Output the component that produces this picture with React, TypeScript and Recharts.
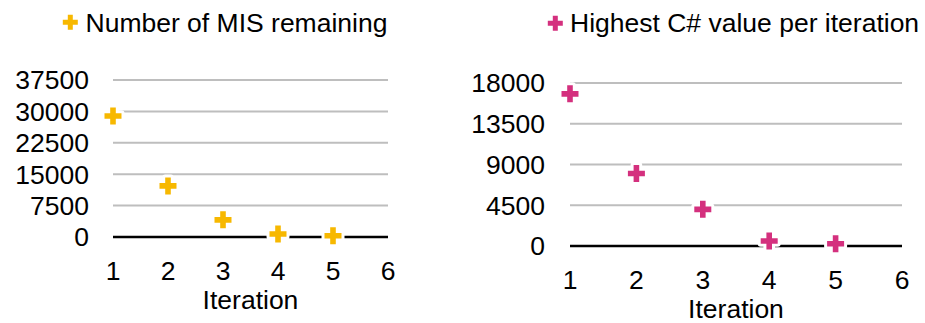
import React from "react";
import {
  ScatterChart,
  Scatter,
  XAxis,
  YAxis,
  CartesianGrid,
  Label,
} from "recharts";

const ITERATIONS = [1, 2, 3, 4, 5];
const MIS_REMAINING = [28900, 12200, 4100, 700, 300];
const HIGHEST_C_SHARP = [16800, 8000, 4050, 550, 250];
const X_TICKS = [1, 2, 3, 4, 5, 6];
const MIS_TICKS = [0, 7500, 15000, 22500, 30000, 37500];
const C_SHARP_TICKS = [0, 4500, 9000, 13500, 18000];
const MIS_LABEL = "Number of MIS remaining";
const C_SHARP_LABEL = "Highest C# value per iteration";
const X_LABEL = "Iteration";

const YELLOW = "#F7B800";
const PINK = "#D4307E";
const GRID_COLOR = "#BEBEBE";
const FONT = '"Liberation Sans", Arial, Helvetica, sans-serif';
const FONT_SIZE = 26.5;

function plusPath(cx: number, cy: number, len: number, w: number): string {
  const a = len / 2;
  const b = w / 2;
  const d = a - b;
  return `M${cx - b},${cy - a}h${w}v${d}h${d}v${w}h${-d}v${d}h${-w}v${-d}h${-d}v${-w}h${d}z`;
}

// Plus marker with a white halo that breaks the grid lines behind it.
const PlusMarker = ({
  cx,
  cy,
  fill,
}: {
  cx?: number;
  cy?: number;
  fill?: string;
}) => {
  if (cx === undefined || cy === undefined) return null;
  return (
    <path
      d={plusPath(cx, cy, 17, 5.6)}
      fill={fill}
      stroke="#fff"
      strokeWidth={6}
      strokeLinejoin="round"
      paintOrder="stroke"
    />
  );
};

const tickStyle = { fill: "#000", fontSize: FONT_SIZE, fontFamily: FONT };

interface PanelProps {
  values: number[];
  yTicks: number[];
  color: string;
  left: number;
  width: number;
  top: number;
  right: number;
  xAxisHeight: number;
  yAxisWidth: number;
  yTickMargin: number;
}

function Panel({
  values,
  yTicks,
  color,
  left,
  width,
  top,
  right,
  xAxisHeight,
  yAxisWidth,
  yTickMargin,
}: PanelProps) {
  const data = ITERATIONS.map((x, i) => ({ x, y: values[i] }));
  return (
    <div style={{ position: "absolute", left, top: 0 }}>
      <ScatterChart
        width={width}
        height={323}
        margin={{ top, right, bottom: 0, left: 0 }}
      >
        <CartesianGrid
          vertical={false}
          stroke={GRID_COLOR}
          strokeWidth={2}
        />
        <XAxis
          type="number"
          dataKey="x"
          domain={[1, 6]}
          ticks={X_TICKS}
          interval={0}
          height={xAxisHeight}
          tickLine={false}
          tickSize={0}
          tickMargin={24}
          axisLine={{ stroke: "#000", strokeWidth: 2.6 }}
          tick={tickStyle}
        >
          <Label
            value={X_LABEL}
            position="insideTop"
            offset={53}
            fill="#000"
            fontSize={FONT_SIZE}
            fontFamily={FONT}
          />
        </XAxis>
        <YAxis
          type="number"
          dataKey="y"
          domain={[yTicks[0], yTicks[yTicks.length - 1]]}
          ticks={yTicks}
          interval={0}
          width={yAxisWidth}
          axisLine={false}
          tickLine={false}
          tickSize={0}
          tickMargin={yTickMargin}
          tick={tickStyle}
        />
        <Scatter
          data={data}
          fill={color}
          shape={<PlusMarker />}
          isAnimationActive={false}
        />
      </ScatterChart>
    </div>
  );
}

function LegendItem({
  x,
  y,
  textX,
  color,
  label,
}: {
  x: number;
  y: number;
  textX: number;
  color: string;
  label: string;
}) {
  return (
    <g>
      <path d={plusPath(x, y, 15, 5)} fill={color} />
      <text
        x={textX}
        y={31.5}
        fill="#000"
        fontSize={FONT_SIZE}
        fontFamily={FONT}
      >
        {label}
      </text>
    </g>
  );
}

export default function App() {
  return (
    <div
      style={{
        position: "absolute",
        left: 0,
        top: 0,
        width: 925,
        height: 323,
        background: "#fff",
        overflow: "hidden",
      }}
    >
      <svg
        width={925}
        height={50}
        style={{ position: "absolute", left: 0, top: 0 }}
      >
        <LegendItem x={70.3} y={22.3} textX={85.5} color={YELLOW} label={MIS_LABEL} />
        <LegendItem x={555.3} y={23.3} textX={570} color={PINK} label={C_SHARP_LABEL} />
      </svg>
      <Panel
        values={MIS_REMAINING}
        yTicks={MIS_TICKS}
        color={YELLOW}
        left={0}
        width={400}
        top={80}
        right={12}
        xAxisHeight={86}
        yAxisWidth={113}
        yTickMargin={24}
      />
      <Panel
        values={HIGHEST_C_SHARP}
        yTicks={C_SHARP_TICKS}
        color={PINK}
        left={463}
        width={462}
        top={83}
        right={23}
        xAxisHeight={77}
        yAxisWidth={107}
        yTickMargin={25}
      />
    </div>
  );
}
